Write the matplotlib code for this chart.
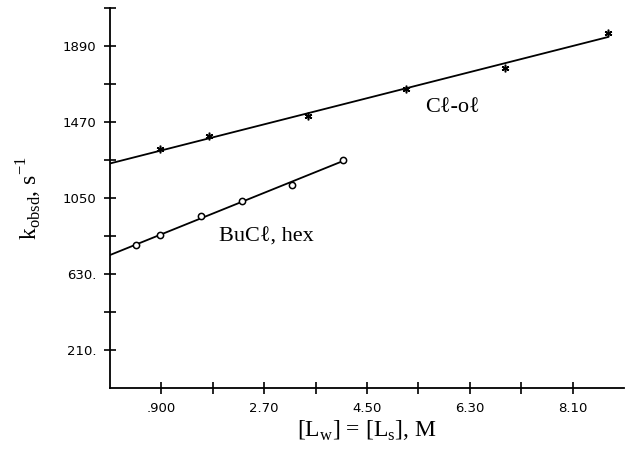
import numpy as np
import matplotlib
matplotlib.use("Agg")
import matplotlib.pyplot as plt

# ========== DATA ==========
clol_x = [0.87, 1.73, 3.47, 5.19, 6.92, 8.71]
clol_y = [1318, 1391, 1502, 1654, 1770, 1964]

bucl_x = [0.45, 0.88, 1.60, 2.31, 3.18, 4.08]
bucl_y = [788, 847, 948, 1031, 1124, 1262]

xticks = [0.9, 2.7, 4.5, 6.3, 8.1]
xtick_labels = [".900", "2.70", "4.50", "6.30", "8.10"]
yticks = [210, 630, 1050, 1470, 1890]
ytick_labels = ["210.", "630.", "1050", "1470", "1890"]

serif = ["Liberation Serif", "DejaVu Serif"]

# ========== FIGURE ==========
fig = plt.figure(figsize=(6.27, 4.68), dpi=100)
ax = fig.add_axes([0.1754, 0.171, 0.820, 0.812])

# least squares lines from x=0 to last point
for xs, ys in [(clol_x, clol_y), (bucl_x, bucl_y)]:
    slope, icept = np.polyfit(xs, ys, 1)
    xl = np.array([0.0, max(xs)])
    ax.plot(xl, slope * xl + icept, color="black", lw=1.3)

ax.plot(clol_x, clol_y, ls="none", marker=(6, 2, 0), ms=5.5, mew=1.1, color="black")
ax.plot(bucl_x, bucl_y, ls="none", marker="o", ms=4.5, mfc="white", mec="black", mew=1.1)

ax.text(5.51, 1550, "C\u2113-o\u2113", family=serif, fontsize=16, va="center")
ax.text(1.91, 836, "BuC\u2113, hex", family=serif, fontsize=16, va="center")

ax.set_xlim(0, 9.0)
ax.set_ylim(0, 2100)

ax.set_xticks(xticks)
ax.set_xticklabels(xtick_labels)
ax.set_xticks([1.8, 3.6, 5.4, 7.2], minor=True)
ax.set_yticks(yticks)
ax.set_yticklabels(ytick_labels)
ax.set_yticks([420, 840, 1260, 1680, 2100], minor=True)

ax.tick_params(which="both", direction="inout", length=8, width=1.2,
               labelsize=9.5, pad=6)
ax.spines["top"].set_visible(False)
ax.spines["right"].set_visible(False)
for s in ["left", "bottom"]:
    ax.spines[s].set_linewidth(1.3)

ax.set_xlabel(r"[L$_\mathregular{w}$] = [L$_\mathregular{s}$], M", family=serif,
              fontsize=17, labelpad=3)
ax.set_ylabel(r"k$_\mathregular{obsd}$, s$^\mathregular{-1}$", family=serif,
              fontsize=17, labelpad=13)

plt.savefig("out.png", dpi=100, facecolor="white")
